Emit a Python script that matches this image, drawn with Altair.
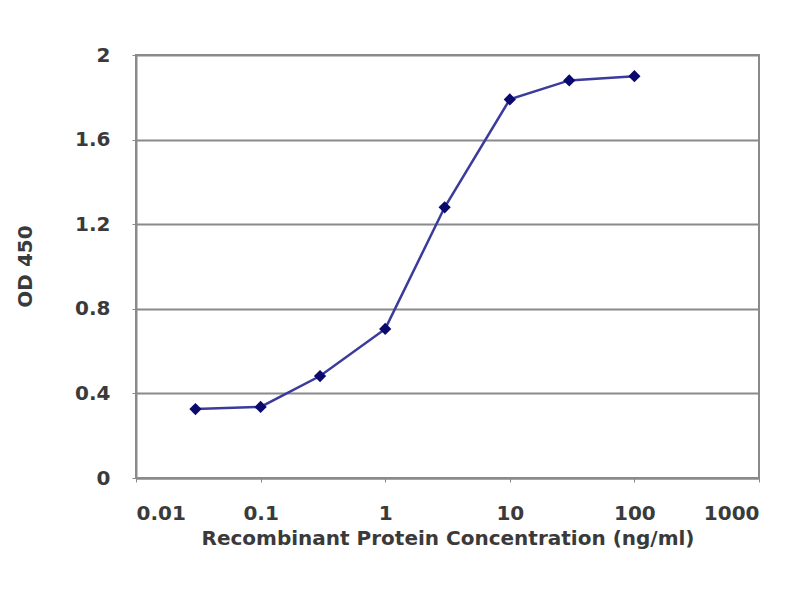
import altair as alt
import pandas as pd

conc = [0.03, 0.1, 0.3, 1, 3, 10, 30, 100]
od450 = [0.326, 0.336, 0.482, 0.705, 1.28, 1.79, 1.88, 1.90]
x_ticks = [0.01, 0.1, 1, 10, 100, 1000]
y_ticks = [0, 0.4, 0.8, 1.2, 1.6, 2]

df = pd.DataFrame({"conc": conc, "od": od450})

FONT = "DejaVu Sans"
GRAY = "#8a8a8a"
TXT = "#3a3a3a"

x = alt.X(
    "conc:Q",
    scale=alt.Scale(type="log", domain=[0.01, 1000]),
    axis=alt.Axis(
        title="Recombinant Protein Concentration (ng/ml)",
        values=x_ticks,
        labelExpr="format(datum.value, '~g')",
        grid=False,
        tickSize=4,
        tickColor=GRAY,
        domainColor=GRAY,
        domainWidth=2,
        labelPadding=21,
        labelFont=FONT,
        labelFontSize=20,
        labelFontWeight="bold",
        labelColor=TXT,
        titleFont=FONT,
        titleFontSize=20,
        titleFontWeight="bold",
        titleColor=TXT,
        titleBaseline="middle",
        titleY=60,
    ),
)
y = alt.Y(
    "od:Q",
    scale=alt.Scale(domain=[0, 2]),
    axis=alt.Axis(
        title="OD 450",
        values=y_ticks,
        format="~g",
        grid=True,
        gridColor=GRAY,
        gridWidth=1.8,
        tickSize=4,
        tickColor=GRAY,
        domainColor=GRAY,
        domainWidth=2,
        labelPadding=22,
        labelFont=FONT,
        labelFontSize=20,
        labelFontWeight="bold",
        labelColor=TXT,
        titleFont=FONT,
        titleFontSize=20,
        titleFontWeight="bold",
        titleColor=TXT,
        titleBaseline="middle",
        titleX=-111,
        titleY=211,
    ),
)

base = alt.Chart(df)
line = base.mark_line(color="#3b3b9c", strokeWidth=2.5).encode(x=x, y=y)
pts = base.mark_point(shape="diamond", filled=True, size=150, color="#0a0a6e", opacity=1).encode(x=x, y=y)

chart = (
    (line + pts)
    .properties(
        width=623,
        height=423,
        autosize=alt.AutoSizeParams(type="none"),
        padding={"left": 128, "top": 47, "right": 25, "bottom": 80},
        background="white",
    )
    .configure_view(stroke=GRAY, strokeWidth=2)
)

chart.save("out.html", embed_options={"renderer": "svg", "actions": False})
